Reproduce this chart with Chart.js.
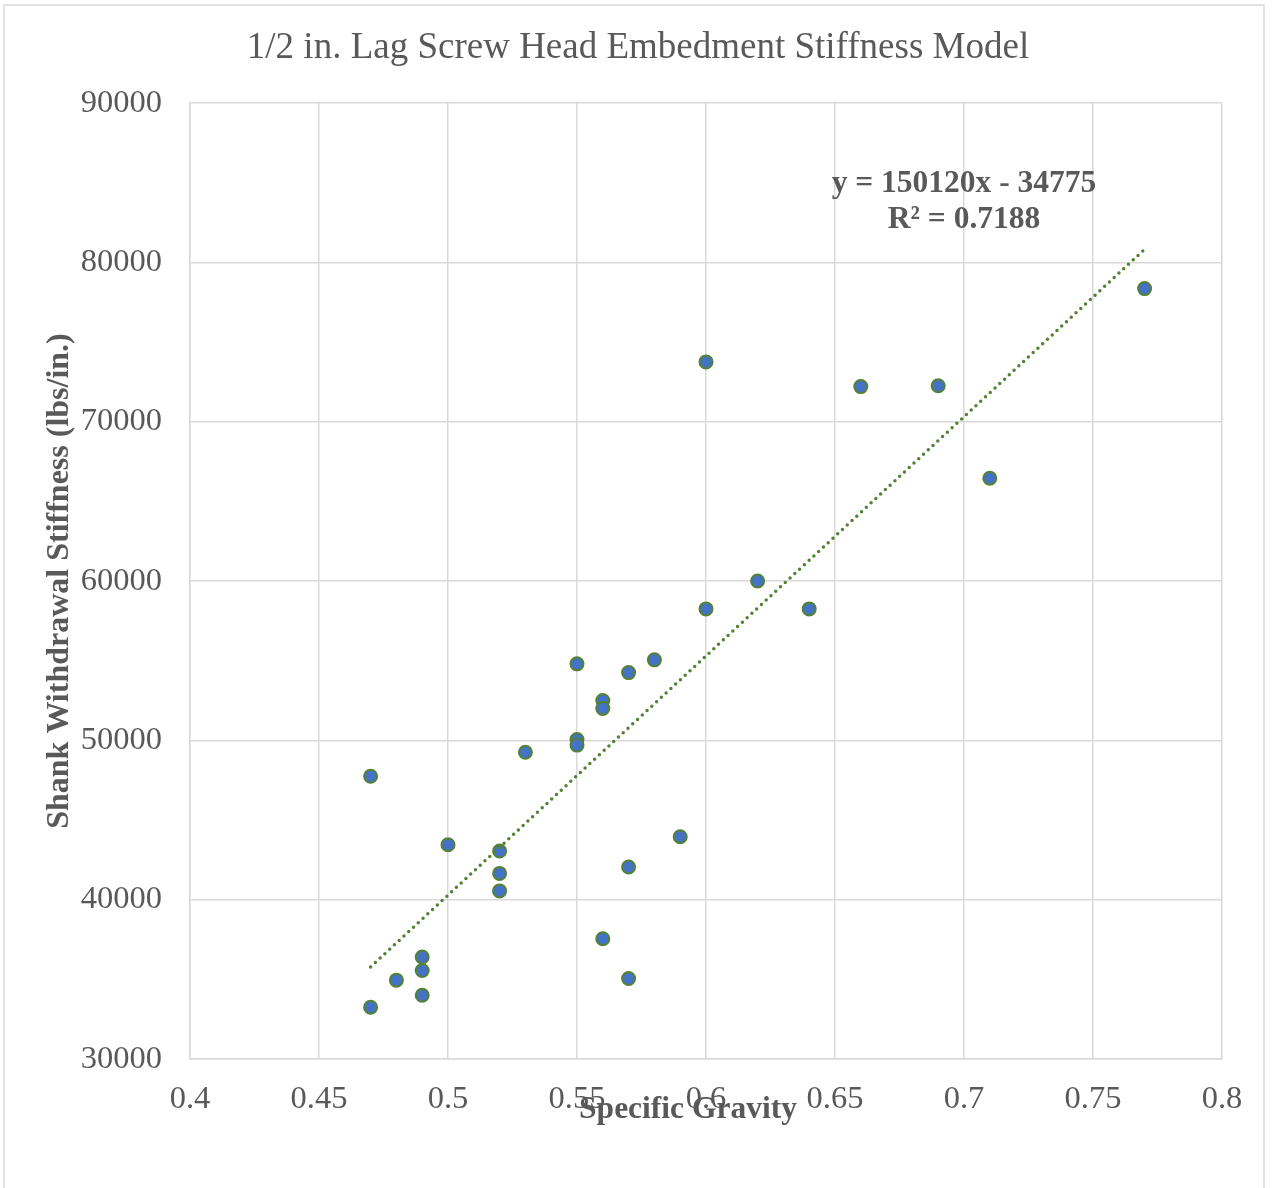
<!DOCTYPE html>
<html>
<head>
<meta charset="utf-8">
<script src="https://cdn.jsdelivr.net/npm/chart.js@4/dist/chart.umd.min.js"></script>
<style>
  html, body { margin: 0; padding: 0; background: #fff; }
  #wrap { width: 1274px; height: 1188px; }
</style>
</head>
<body>
<div id="wrap"><canvas id="chart" width="1274" height="1188"></canvas></div>
<script>
// Dữ liệu
const specificGravity = [0.47, 0.47, 0.48, 0.49, 0.49, 0.49, 0.5, 0.52, 0.52, 0.52, 0.53, 0.55, 0.55, 0.55, 0.56,
  0.56, 0.56, 0.57, 0.57, 0.57, 0.58, 0.59, 0.6, 0.6, 0.62, 0.64, 0.66, 0.69, 0.71, 0.77];
const stiffness = [47750, 33250, 34950, 36400, 35550, 34000, 43450, 43050, 41650, 40550, 49250, 54800, 50050, 49700, 52500,
  52000, 37550, 54250, 42050, 35050, 55050, 43950, 73750, 58250, 60000, 58250, 72200, 72250, 66450, 78350];

// Đường xu hướng (hai đầu mút)
const trendX = [0.47, 0.77];
const trendY = [35780, 80820];
const trendLabel = ["y = 150120x - 34775", "R\u00b2 = 0.7188"];

const xTicks = [0.4, 0.45, 0.5, 0.55, 0.6, 0.65, 0.7, 0.75, 0.8];
const yTicks = [30000, 40000, 50000, 60000, 70000, 80000, 90000];

const chartTitle = "1/2 in. Lag Screw Head Embedment Stiffness Model";

const SERIF = "'Liberation Serif', 'Times New Roman', serif";
const TEXT = "#595959";
const GRID = "#d9d9d9";

// Khung viền ngoài, tiêu đề, nhãn trục X và phương trình
const extrasPlugin = {
  id: "extras",
  beforeDraw(chart) {
    const ctx = chart.ctx;
    ctx.save();
    ctx.strokeStyle = GRID;
    ctx.lineWidth = 1.5;
    ctx.strokeRect(4, 5, 1260, 1250);
    ctx.restore();
  },
  afterDraw(chart) {
    const ctx = chart.ctx;
    const xs = chart.scales.x;
    const ys = chart.scales.y;
    ctx.save();
    ctx.fillStyle = TEXT;
    ctx.textAlign = "center";
    ctx.textBaseline = "middle";
    ctx.font = "37px " + SERIF;
    ctx.fillText(chartTitle, 638, 48);
    ctx.font = "bold 31.5px " + SERIF;
    ctx.fillText("Specific Gravity", 688, 1110);
    const cx = xs.getPixelForValue(0.7);
    const cy = ys.getPixelForValue(84900);
    ctx.fillText(trendLabel[0], cx, cy);
    ctx.fillText(trendLabel[1], cx, cy + 36);
    ctx.restore();
  },
};

const points = specificGravity.map((x, i) => ({ x: x, y: stiffness[i] }));
const trendPoints = trendX.map((x, i) => ({ x: x, y: trendY[i] }));

new Chart(document.getElementById("chart").getContext("2d"), {
  type: "scatter",
  data: {
    datasets: [
      {
        label: "Trend",
        type: "line",
        data: trendPoints,
        borderColor: "#548235",
        borderWidth: 3.5,
        borderDash: [0, 6.5],
        borderCapStyle: "round",
        pointRadius: 0,
        fill: false,
      },
      {
        label: "Data",
        data: points,
        backgroundColor: "#4472c4",
        borderColor: "#548235",
        borderWidth: 2,
        pointRadius: 6.5,
      },
    ],
  },
  options: {
    responsive: false,
    animation: false,
    layout: { padding: { left: 0, right: 52, top: 103, bottom: 0 } },
    plugins: {
      legend: { display: false },
      tooltip: { enabled: false },
      title: { display: false },
    },
    scales: {
      x: {
        type: "linear",
        min: 0.4,
        max: 0.8,
        afterBuildTicks: (axis) => { axis.ticks = xTicks.map((v) => ({ value: v })); },
        afterFit: (axis) => { axis.height = 129; },
        grid: { color: GRID, lineWidth: 1.5, drawTicks: false },
        border: { color: GRID, width: 1.5 },
        ticks: {
          color: TEXT,
          padding: 21,
          maxRotation: 0,
          font: { family: SERIF, size: 32.5 },
          callback: (v) => String(Math.round(v * 100) / 100),
        },
        title: { display: false },
      },
      y: {
        type: "linear",
        min: 30000,
        max: 90000,
        afterBuildTicks: (axis) => { axis.ticks = yTicks.map((v) => ({ value: v })); },
        afterFit: (axis) => { axis.width = 190; },
        grid: { color: GRID, lineWidth: 1.5, drawTicks: false },
        border: { color: GRID, width: 1.5 },
        ticks: {
          color: TEXT,
          padding: 28,
          font: { family: SERIF, size: 32.5 },
          callback: (v) => String(v),
        },
        title: {
          display: true,
          text: "Shank Withdrawal Stiffness (lbs/in.)",
          color: TEXT,
          font: { family: SERIF, size: 32, weight: "bold" },
          padding: { top: 41, bottom: 0 },
        },
      },
    },
  },
  plugins: [extrasPlugin],
});
</script>
</body>
</html>
